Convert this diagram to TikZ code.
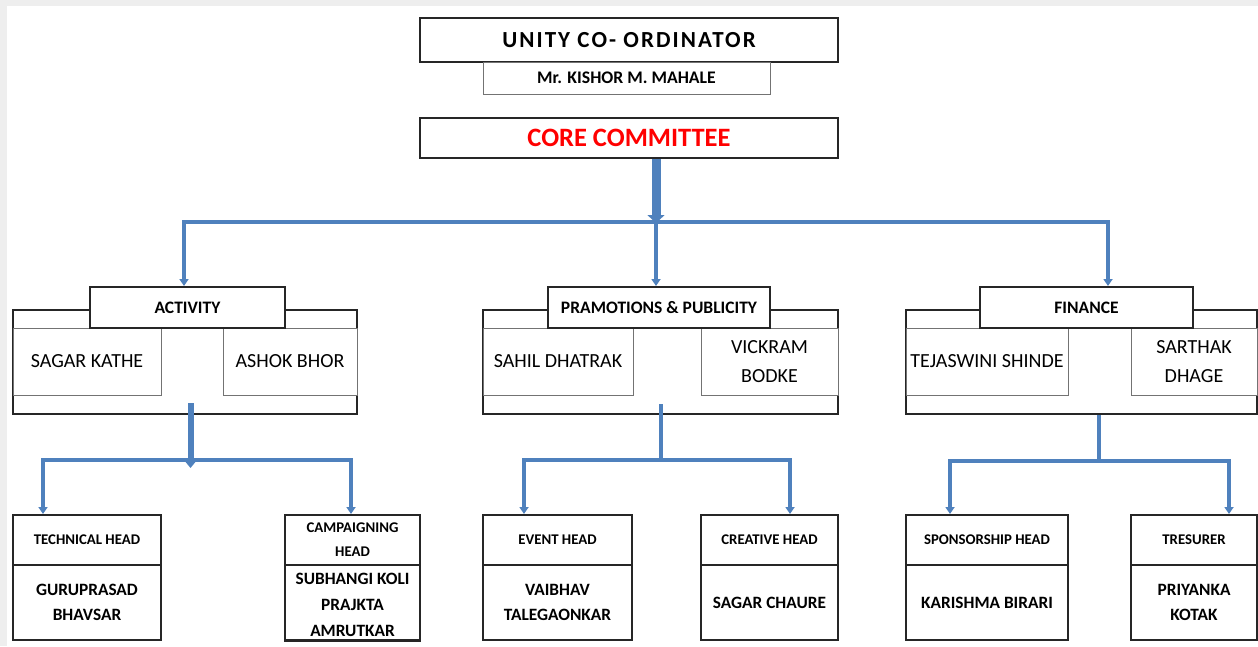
\documentclass[tikz,border=0pt]{standalone}
\usepackage{fontspec}
\setmainfont{Carlito}
\usetikzlibrary{arrows.meta}
\definecolor{linkblue}{RGB}{79,129,189}
\definecolor{edgegray}{RGB}{238,238,238}
\tikzset{
  mainbox/.style={draw=black!85, line width=2pt, fill=white, inner sep=0pt},
  subbox/.style={draw=black!55, line width=1pt, fill=white, inner sep=0pt},
  grouptitle/.style={mainbox, font=\bfseries\fontsize{17.5}{20}\selectfont},
  memberbox/.style={subbox, align=center, font=\fontsize{20}{29}\selectfont},
  headbox/.style={mainbox, align=center, font=\bfseries\fontsize{14.8}{24}\selectfont},
  namebox/.style={mainbox, align=center, font=\bfseries\fontsize{17.3}{25}\selectfont},
  link/.style={draw=linkblue, line width=3.5pt, -{Triangle[width=9pt,length=7pt]}},
  biglink/.style={draw=linkblue, line width=9pt, -{Triangle[width=17pt,length=8pt]}},
  midlink/.style={draw=linkblue, line width=6pt, -{Triangle[width=11pt,length=7pt]}},
  bar/.style={draw=linkblue, line width=3.5pt}
}
\begin{document}
\begin{tikzpicture}[x=1pt,y=-1pt]
\useasboundingbox (0,0) rectangle (1258,646);
\fill[edgegray] (0,0) rectangle (1258,6);
\fill[edgegray] (0,0) rectangle (7,646);

% top
\node[mainbox, minimum width=418pt, minimum height=44pt, font=\bfseries\fontsize{23}{26}\selectfont] (unity) at (629,40) {\addfontfeature{LetterSpace=9}UNITY CO- ORDINATOR};
\node[subbox, minimum width=287pt, minimum height=32pt, font=\bfseries\fontsize{17.7}{20}\selectfont] (kishor) at (626.5,78) {Mr. KISHOR M. MAHALE};
\node[mainbox, minimum width=418pt, minimum height=40pt, text=red, font=\bfseries\fontsize{26.5}{30}\selectfont] (core) at (629,138) {CORE COMMITTEE};

% activity group
\node[mainbox, minimum width=344pt, minimum height=104pt] (actOuter) at (185,362) {};
\node[memberbox, minimum width=148pt, minimum height=67pt] (sagar) at (87,361.5) {SAGAR KATHE};
\node[memberbox, minimum width=134pt, minimum height=67pt] (ashok) at (290,361.5) {ASHOK BHOR};
\node[grouptitle, minimum width=195pt, minimum height=41pt] (act) at (187.5,307.5) {ACTIVITY};

% promotions group
\node[mainbox, minimum width=355pt, minimum height=104pt] (pramOuter) at (660.5,362) {};
\node[memberbox, minimum width=150pt, minimum height=67pt] (sahil) at (558,361.5) {SAHIL DHATRAK};
\node[memberbox, minimum width=137pt, minimum height=67pt] (vickram) at (769.5,361.5) {VICKRAM\\BODKE};
\node[grouptitle, minimum width=222pt, minimum height=41pt] (pram) at (659,307.5) {PRAMOTIONS \& PUBLICITY};

% finance group
\node[mainbox, minimum width=351pt, minimum height=104pt] (finOuter) at (1081.5,362) {};
\node[memberbox, minimum width=162pt, minimum height=67pt] (tejaswini) at (987,361.5) {TEJASWINI SHINDE};
\node[memberbox, minimum width=126pt, minimum height=67pt] (sarthak) at (1194,361.5) {SARTHAK\\DHAGE};
\node[grouptitle, minimum width=213pt, minimum height=41pt] (fin) at (1086.5,307.5) {FINANCE};

% bottom heads
\node[headbox, minimum width=148pt, minimum height=50pt] (tech) at (87,540) {TECHNICAL HEAD};
\node[namebox, minimum width=148pt, minimum height=75pt] (techN) at (87,602.5) {GURUPRASAD\\BHAVSAR};
\node[headbox, minimum width=135pt, minimum height=50pt] (camp) at (352.5,540) {CAMPAIGNING\\HEAD};
\node[namebox, minimum width=135pt, minimum height=75pt] (campN) at (352.5,602.5) {};
\node[font=\bfseries\fontsize{17.3}{26}\selectfont, align=center, anchor=north, inner sep=0pt] (campT) at (352.5,573) {SUBHANGI KOLI\\PRAJKTA\\AMRUTKAR};
\fill[white] (283,641) rectangle (423,648);
\draw[black!85, line width=2pt] (campN.south west) -- (campN.south east);
\node[headbox, minimum width=149pt, minimum height=50pt] (event) at (557.5,540) {EVENT HEAD};
\node[namebox, minimum width=149pt, minimum height=75pt] (eventN) at (557.5,602.5) {VAIBHAV\\TALEGAONKAR};
\node[headbox, minimum width=137pt, minimum height=50pt] (creative) at (769.5,540) {CREATIVE HEAD};
\node[namebox, minimum width=137pt, minimum height=75pt] (creativeN) at (769.5,602.5) {SAGAR CHAURE};
\node[headbox, minimum width=162pt, minimum height=50pt] (spons) at (987,540) {SPONSORSHIP HEAD};
\node[namebox, minimum width=162pt, minimum height=75pt] (sponsN) at (987,602.5) {KARISHMA BIRARI};
\node[headbox, minimum width=126pt, minimum height=50pt] (tres) at (1194,540) {TRESURER};
\node[namebox, minimum width=126pt, minimum height=75pt] (tresN) at (1194,602.5) {PRIYANKA\\KOTAK};

% level 1 connectors
\coordinate (j0) at (656,222);
\draw[link] (j0) -- (j0 |- pram.north);
\draw[link] (j0) -| ([xshift=-3.5pt]act.north);
\draw[link] (j0) -| ([xshift=21.5pt]fin.north);
\draw[biglink] (core.south -| j0) -- ([yshift=-1pt]j0);

% activity connectors
\coordinate (j1) at (190.5,460);
\draw[link] (j1) -| ([xshift=-44pt]tech.north);
\draw[link] (j1) -| ([xshift=-1.5pt]camp.north);
\draw[midlink] ([yshift=12pt]actOuter.south -| j1) -- ([yshift=-8pt]j1);

% promotions connectors
\coordinate (j2) at (661,460);
\draw[bar] ([yshift=11pt]pramOuter.south -| j2) -- (j2);
\draw[link] (j2) -| ([xshift=-33.5pt]event.north);
\draw[link] (j2) -| ([xshift=20.5pt]creative.north);

% finance connectors
\coordinate (j3) at (1099,461);
\draw[bar] (finOuter.south -| j3) -- (j3);
\draw[link] (j3) -| ([xshift=-37pt]spons.north);
\draw[link] (j3) -| ([xshift=35pt]tres.north);
\end{tikzpicture}
\end{document}
